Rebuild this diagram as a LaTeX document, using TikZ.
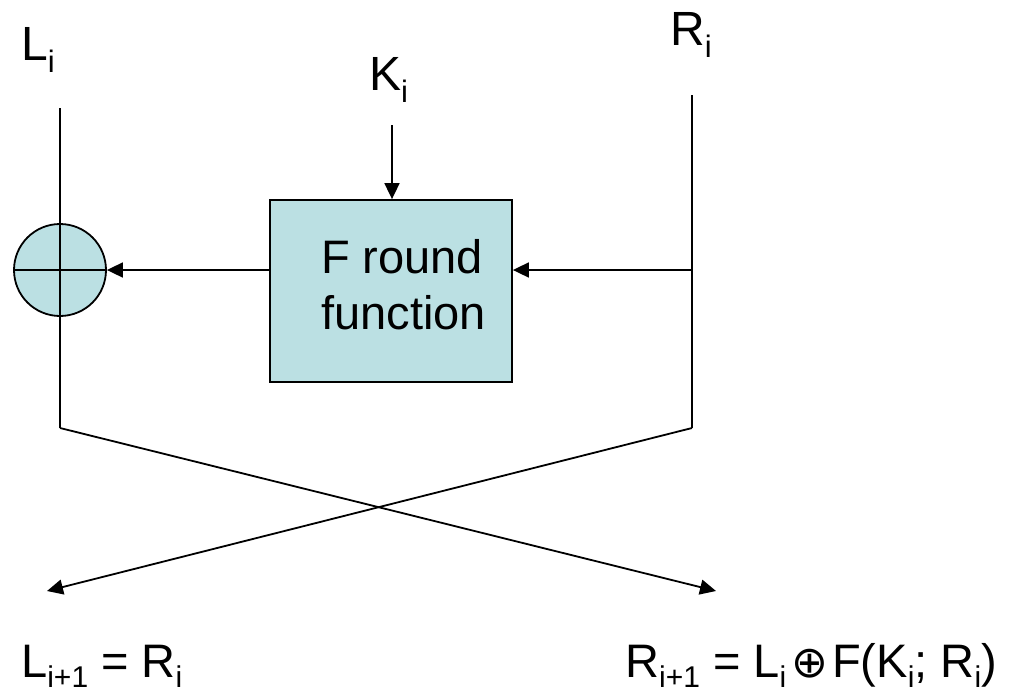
\documentclass[tikz,border=0pt]{standalone}
\usepackage{fontspec}
\setmainfont{Liberation Sans}
\newfontfamily\djv{DejaVu Sans}
\usetikzlibrary{arrows.meta}
\definecolor{fcol}{RGB}{187,224,227}
\newcommand{\sbs}[1]{\raisebox{-12pt}{\fontsize{31}{31}\selectfont #1}}
\newcommand{\sbb}[1]{\raisebox{-10pt}{\fontsize{30}{30}\selectfont #1}}
\newcommand{\xorsym}{{\djv\fontsize{44}{44}\selectfont ⊕}}
\begin{document}
\begin{tikzpicture}[x=1pt,y=-1pt,
  lbl/.style={inner sep=0pt, anchor=base west, font=\fontsize{48}{56}\selectfont},
  blbl/.style={inner sep=0pt, anchor=base west, font=\fontsize{47}{56}\selectfont},
  ln/.style={line width=1.8pt},
  arr/.style={line width=1.8pt, -{Triangle[length=16pt,width=15pt]}},
  fbox/.style={draw, line width=1.8pt, fill=fcol, minimum width=242pt, minimum height=182pt, inner sep=0pt}]
\useasboundingbox (0,0) rectangle (1010,694);
% labels
\node[lbl] (Li) at (21,60) {L\sbs{i}};
\node[lbl] (Ki) at (369,90) {K\sbs{i}};
\node[lbl] (Ri) at (670,45) {R\sbs{i}};
% coordinates
\coordinate (Ltop) at (60,108);
\coordinate (Rtop) at (692,95);
\coordinate (Ktop) at (392,125);
\coordinate (Rmid) at (692,270);
\coordinate (Lbot) at (60,428);
\coordinate (Rbot) at (692,428);
\coordinate (Ltip) at (47,591);
\coordinate (Rtip) at (716,591);
% box
\node[fbox] (F) at (391,291) {};
\node[inner sep=0pt, align=left, anchor=north west, font=\fontsize{47}{56}\selectfont] (Ft) at (321,239) {F round\\function};
% xor
\node[draw, circle, line width=1.8pt, fill=fcol, minimum size=92pt, inner sep=0pt] (X) at (60,270) {};
\draw[ln] (X.west) -- (X.east);
\draw[ln] (Ltop) -- (Lbot);
% arrows
\draw[arr] (Ktop) -- (Ktop |- F.north);
\draw[ln] (Rtop) -- (Rbot);
\draw[arr] (Rmid) -- (Rmid -| F.east);
\draw[arr] (X.east -| F.west) -- (X.east);
\draw[arr] (Lbot) -- (Rtip);
\draw[arr] (Rbot) -- (Ltip);
% bottom labels
\node[blbl] (Lnext) at (21,677) {L\sbb{i+1} = R\sbb{i}};
\node[blbl] (Rnext) at (625,677) {R\sbb{i+1} = L\sbb{i}\hspace{5pt}\xorsym\hspace{4pt}F(K\sbb{i}; R\sbb{i})};
\end{tikzpicture}
\end{document}
